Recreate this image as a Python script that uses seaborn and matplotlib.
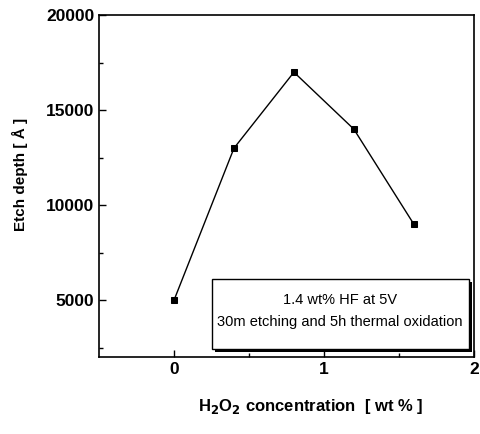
import matplotlib
matplotlib.use("Agg")
import matplotlib.pyplot as plt
import seaborn as sns
import pandas as pd
from matplotlib.patches import Rectangle

h2o2 = [0.0, 0.4, 0.8, 1.2, 1.6]
etch_depth = [5000, 13000, 17000, 14000, 9000]
xticks = [0, 1, 2]
yticks = [5000, 10000, 15000, 20000]

sns.set_theme(style="ticks")
plt.rcParams['font.family'] = ['Liberation Sans', 'DejaVu Sans']
plt.rcParams['text.color'] = 'black'
plt.rcParams['axes.labelcolor'] = 'black'

df = pd.DataFrame({"x": h2o2, "y": etch_depth})

fig = plt.figure(figsize=(4.81, 4.34), dpi=100)
ax = fig.add_axes([0.206, 0.177, 0.779, 0.788])
sns.lineplot(data=df, x="x", y="y", ax=ax, color="black", lw=1.0,
             marker="s", markersize=4, markeredgecolor="black")

ax.set_xlim(-0.5, 2)
ax.set_ylim(2000, 20000)
ax.set_xticks(xticks)
ax.set_yticks(yticks)
ax.set_xticks([0.5, 1.5], minor=True)
ax.set_yticks([2500, 7500, 12500, 17500], minor=True)
ax.tick_params(which="both", direction="in", top=False, right=False, width=1, colors="black")
ax.tick_params(which="major", length=5, labelsize=12.5)
ax.tick_params(which="minor", length=3)
for lab in ax.get_xticklabels() + ax.get_yticklabels():
    lab.set_fontweight("bold")
for s in ax.spines.values():
    s.set_linewidth(1.2)
    s.set_color("black")

ax.set_xlabel(r"H$_\mathbf{2}$O$_\mathbf{2}$ concentration  [ wt % ]", fontsize=12, fontweight="bold")
ax.xaxis.set_label_coords(0.565, -0.115)
ax.set_ylabel("Etch depth [ Å ]", fontsize=11, fontweight="bold")
ax.yaxis.set_label_coords(-0.19, 0.535)

# inset box with shadow
x0, y0, w, h = 0.301, 0.023, 0.685, 0.205
ax.add_patch(Rectangle((x0 + 0.008, y0 - 0.009), w, h, transform=ax.transAxes,
                       facecolor="black", edgecolor="black", lw=0, zorder=4))
ax.add_patch(Rectangle((x0, y0), w, h, transform=ax.transAxes,
                       facecolor="white", edgecolor="black", lw=1.0, zorder=5))
ax.text(x0 + w / 2, y0 + h * 0.70, "1.4 wt% HF at 5V", transform=ax.transAxes,
        ha="center", va="center", fontsize=10.5, zorder=6)
ax.text(x0 + w / 2, y0 + h * 0.39, "30m etching and 5h thermal oxidation", transform=ax.transAxes,
        ha="center", va="center", fontsize=10.5, zorder=6)

fig.savefig("out.png", dpi=100)
